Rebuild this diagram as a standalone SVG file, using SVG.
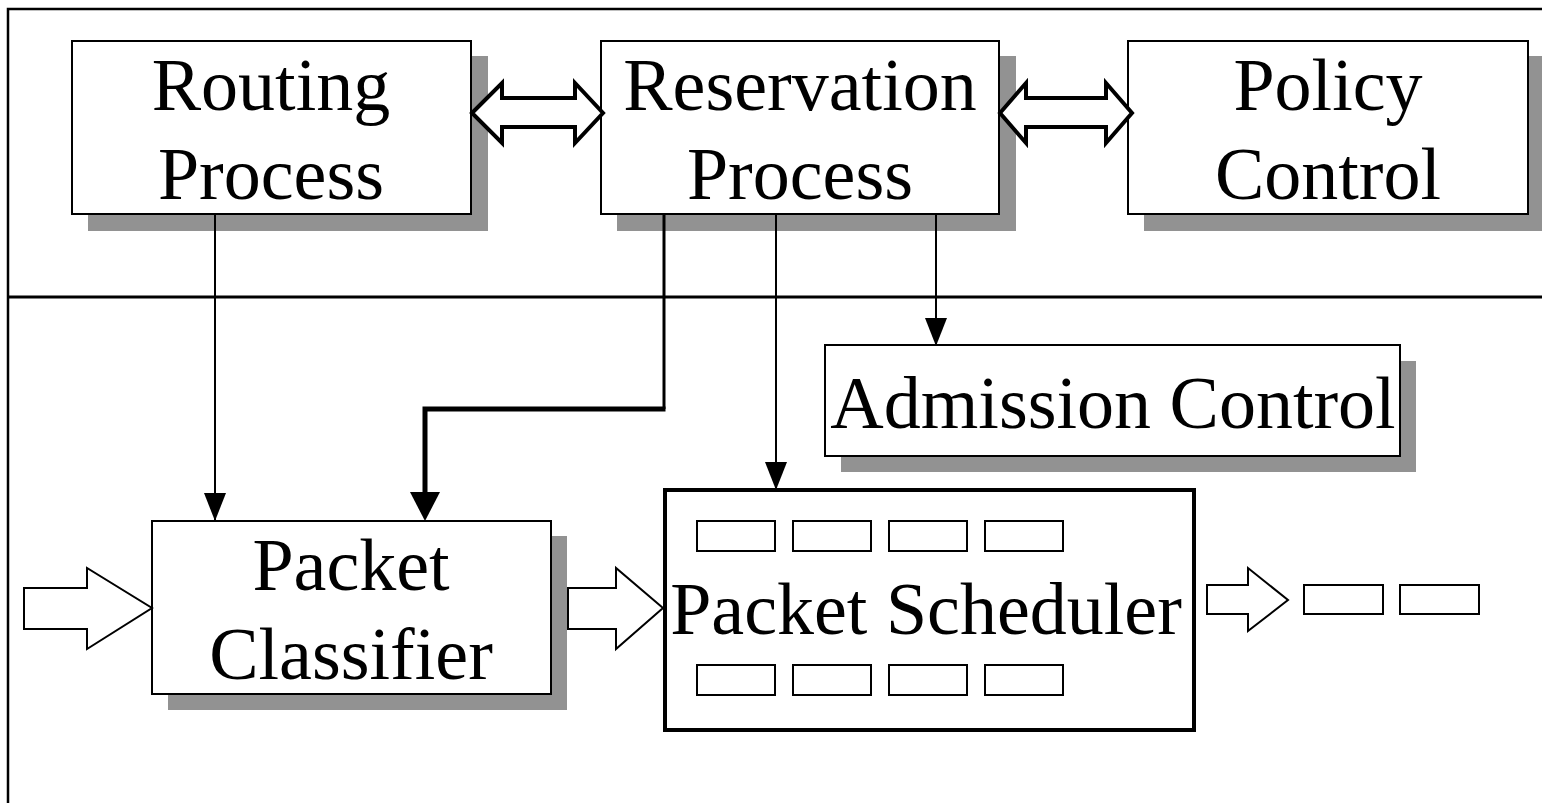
<svg xmlns="http://www.w3.org/2000/svg" width="1542" height="803" viewBox="0 0 1542 803">
<style>
.box{fill:#fff;stroke:#000;stroke-width:2}
.sh{fill:#929292}
.t{font-family:"Liberation Serif","Times New Roman",serif;font-size:74px;fill:#000;text-anchor:middle}
.q{fill:#fff;stroke:#000;stroke-width:2}
.thin{fill:none;stroke:#000;stroke-width:2}
.blk{fill:#fff;stroke:#000;stroke-width:2;stroke-linejoin:miter}
.dbl{fill:#fff;stroke:#000;stroke-width:4;stroke-linejoin:miter}
</style>
<defs>
<marker id="ah" markerUnits="userSpaceOnUse" markerWidth="28" markerHeight="22" refX="27" refY="11" orient="auto" viewBox="0 0 28 22">
<path d="M0,0 L28,11 L0,22 Z" fill="#000"/>
</marker>
</defs>
<rect width="1542" height="803" fill="#fff"/>
<g id="frame">
<path d="M8,803 L8,9 L1542,9" fill="none" stroke="#000" stroke-width="2.5"/>
<line x1="8" y1="297" x2="1542" y2="297" stroke="#000" stroke-width="3"/>
</g>
<g id="routing">
<rect class="sh" x="88" y="56" width="400" height="175"/>
<rect class="box" x="72" y="41" width="399" height="173"/>
<text class="t" x="271" y="110">Routing</text>
<text class="t" x="271" y="199">Process</text>
</g>
<g id="reservation">
<rect class="sh" x="617" y="56" width="399" height="175"/>
<rect class="box" x="601" y="41" width="398" height="173"/>
<text class="t" x="800" y="110">Reservation</text>
<text class="t" x="800" y="199">Process</text>
</g>
<g id="policy">
<rect class="sh" x="1144" y="56" width="400" height="175"/>
<rect class="box" x="1128" y="41" width="400" height="173"/>
<text class="t" x="1328" y="110">Policy</text>
<text class="t" x="1328" y="199">Control</text>
</g>
<g id="admission">
<rect class="sh" x="841" y="361" width="575" height="111"/>
<rect class="box" x="825" y="345" width="575" height="111"/>
<text class="t" x="1113" y="428">Admission Control</text>
</g>
<g id="classifier">
<rect class="sh" x="168" y="536" width="399" height="174"/>
<rect class="box" x="152" y="521" width="399" height="173"/>
<text class="t" x="351" y="590">Packet</text>
<text class="t" x="351" y="679">Classifier</text>
</g>
<g id="scheduler">
<rect x="665" y="490" width="529" height="240" fill="#fff" stroke="#000" stroke-width="4"/>
<rect class="q" x="697" y="521" width="78" height="30"/>
<rect class="q" x="793" y="521" width="78" height="30"/>
<rect class="q" x="889" y="521" width="78" height="30"/>
<rect class="q" x="985" y="521" width="78" height="30"/>
<rect class="q" x="697" y="665" width="78" height="30"/>
<rect class="q" x="793" y="665" width="78" height="30"/>
<rect class="q" x="889" y="665" width="78" height="30"/>
<rect class="q" x="985" y="665" width="78" height="30"/>
<text class="t" x="926" y="634">Packet Scheduler</text>
</g>
<g id="output">
<rect class="q" x="1304" y="585" width="79" height="29"/>
<rect class="q" x="1400" y="585" width="79" height="29"/>
</g>
<g id="connectors">
<path class="dbl" d="M472,113 L502,83 L502,98 L575,98 L575,83 L603,113 L575,143 L575,127 L502,127 L502,143 Z"/>
<path class="dbl" d="M1000,113 L1026,83 L1026,98 L1106,98 L1106,83 L1132,113 L1106,143 L1106,127 L1026,127 L1026,143 Z"/>
<line class="thin" x1="215" y1="214" x2="215" y2="520" marker-end="url(#ah)"/>
<line class="thin" x1="776" y1="214" x2="776" y2="489" marker-end="url(#ah)"/>
<line class="thin" x1="936" y1="214" x2="936" y2="345" marker-end="url(#ah)"/>
<path d="M664,214 L664,409" fill="none" stroke="#000" stroke-width="3"/>
<path d="M665.5,409 L425,409 L425,494" fill="none" stroke="#000" stroke-width="5"/>
<path d="M410,492 L440,492 L425,521 Z" fill="#000"/>
<path class="blk" d="M24,588 L87,588 L87,568 L152,608 L87,649 L87,629 L24,629 Z"/>
<path class="blk" d="M568,588 L616,588 L616,568 L663,608 L616,649 L616,629 L568,629 Z"/>
<path class="blk" d="M1207,585 L1248,585 L1248,568 L1288,600 L1248,631 L1248,614 L1207,614 Z"/>
</g>
</svg>
